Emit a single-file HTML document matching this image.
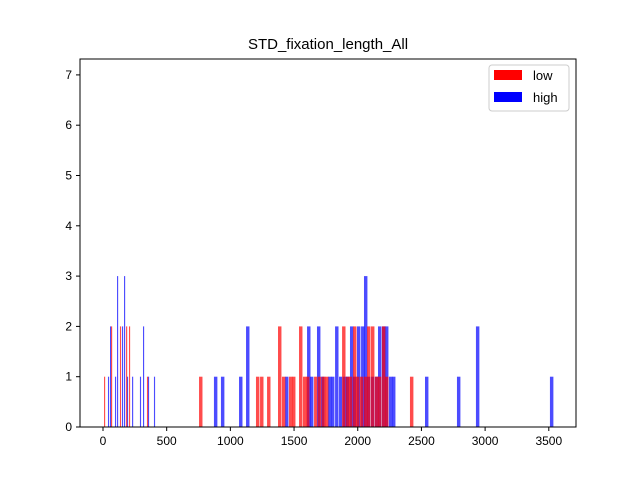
<!DOCTYPE html>
<html><head><meta charset="utf-8"><style>
body{margin:0;background:#fff;font-family:"Liberation Sans",sans-serif}
svg text{font-family:"Liberation Sans","DejaVu Sans",sans-serif;fill:#000}
</style></head><body>
<svg id="c" width="640" height="480">
<rect width="640" height="480" fill="#fff"/>
<text x="328" y="49" font-size="15" text-anchor="middle">STD_fixation_length_All</text>
<g id="bars"></g>
<g id="axes"></g>
<g>
<rect x="489" y="65" width="80" height="46" rx="3" fill="#fff" fill-opacity="0.8" stroke="#ccc"/>
<rect x="494" y="70" width="28" height="10" fill="#f00"/>
<text x="533" y="80" font-size="13">low</text>
<rect x="494" y="92" width="28" height="10" fill="#00f"/>
<text x="533" y="102" font-size="13">high</text>
</g>
</svg>
<script>
const lowX=[8,63,133,181,204,345,754,1201,1233,1288,1374,1405,1460,1484,1539,1570,1594,1657,1688,1719,1743,1877,1908,1931,1963,1986,2017,2049,2073,2104,2135,2159,2190,2214,2410];
const lowCount=[1,2,2,2,2,1,1,1,1,1,2,1,1,1,2,1,1,1,1,1,1,2,1,1,2,1,1,1,2,2,1,1,2,1,1];
const highX=[39,55,94,110,149,165,188,228,290,314,353,400,871,926,1068,1123,1429,1602,1625,1680,1712,1766,1790,1822,1853,1884,1908,1939,1963,1994,2026,2049,2073,2104,2135,2159,2190,2214,2245,2269,2528,2779,2928,3509];
const highCount=[1,2,1,3,2,3,1,1,1,2,1,1,1,1,1,2,1,2,1,2,1,1,1,2,1,1,1,2,1,2,2,3,1,1,1,2,2,2,1,1,1,1,2,1];
const xTicks=[0,500,1000,1500,2000,2500,3000,3500];
const yTicks=[0,1,2,3,4,5,6,7];
const L=80,R=576,T=59,B=427;
const xs=v=>103+v*0.12737;
const ys=v=>B-v*50.3;
const NS="http://www.w3.org/2000/svg";
const bars=document.getElementById('bars'),axes=document.getElementById('axes');
function mk(t,a,p){const e=document.createElementNS(NS,t);for(const k in a)e.setAttribute(k,a[k]);p.appendChild(e);return e;}
function draw(X,C,col,name){
 X.forEach((v,i)=>{
  const w=v<500?9:27;
  const r=mk('rect',{x:xs(v),y:ys(C[i]),width:w*0.12737,height:ys(0)-ys(C[i]),fill:col,'fill-opacity':0.7},bars);
  
  
 });
}
draw(highX,highCount,'#00f','high');
draw(lowX,lowCount,'#f00','low');
const fr=mk('rect',{x:L,y:T,width:R-L,height:B-T,fill:'none',stroke:'#000','stroke-width':1},axes);


xTicks.forEach(v=>{
 const x=xs(v);
 mk('line',{x1:x,x2:x,y1:B,y2:B+4,stroke:'#000'},axes);
 const t=mk('text',{x:x,y:B+18,'font-size':12,'text-anchor':'middle'},axes);t.textContent=v;
 
 
});
yTicks.forEach(v=>{
 const y=ys(v);
 mk('line',{x1:L-4,x2:L,y1:y,y2:y,stroke:'#000'},axes);
 const t=mk('text',{x:L-8,y:y+4,'font-size':12,'text-anchor':'end'},axes);t.textContent=v;
 
 
});
</script>
</body></html>
